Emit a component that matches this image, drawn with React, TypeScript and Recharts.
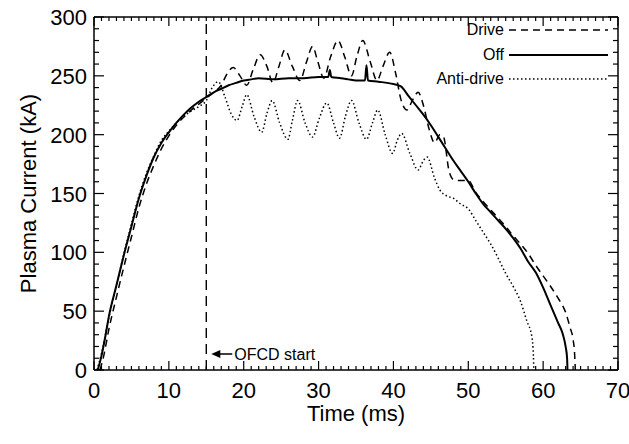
import React from "react";
import { LineChart, Line, XAxis, YAxis, ReferenceLine, ReferenceArea } from "recharts";

const FONT = "'Liberation Sans', Arial, Helvetica, sans-serif";

// time (ms) / plasma current (kA)
const offTime = [0.5, 1, 1.5, 2, 3, 4, 5, 6, 7, 8, 9, 10, 11, 12, 13, 14, 15, 16, 17, 18, 19, 20, 21, 22, 24, 26, 28, 30, 31.3, 31.5, 31.7, 33, 34, 35, 36.2, 36.4, 36.6, 38, 40, 41, 42, 43, 44, 45, 46, 47, 48, 49, 50, 51, 52, 53, 54, 55, 56, 57, 58, 59, 60, 61, 62, 62.6, 63, 63.2, 63.25];
const offCurrent = [0, 12, 28, 46, 72, 98, 122, 146, 165, 181, 193, 202, 210, 217, 223, 228, 232, 236, 239, 242, 244, 246, 247, 248, 247, 248, 248, 249, 249, 255, 249, 248, 247, 246, 246, 259, 246, 245, 243, 241, 233, 225, 217, 208, 198, 188, 178, 169, 160, 150, 141, 134, 127, 120, 112, 103, 92, 83, 70, 55, 40, 31, 20, 10, 0];

const driveTime = [0.8, 1.3, 2, 3, 4, 5, 6, 7, 8, 9, 10, 11, 12, 13, 14, 15, 16, 17, 17.8, 18.6, 19.5, 20.4, 21.3, 22.2, 23.1, 23.9, 24.7, 25.5, 26.5, 27.5, 28.4, 29.2, 29.9, 30.7, 31.6, 32.6, 33.5, 34.4, 35.1, 35.9, 36.9, 37.8, 38.6, 39.5, 40.3, 41, 41.8, 42.6, 43.3, 44, 44.8, 45.5, 46.2, 46.7, 47.4, 48, 48.8, 50, 51, 52, 53, 54, 55, 56, 57, 58, 59, 60, 61, 62, 63, 63.6, 64, 64.2, 64.3];
const driveCurrent = [0, 12, 35, 62, 88, 113, 138, 158, 174, 188, 199, 208, 215, 221, 226, 231, 236, 242, 252, 257, 250, 242, 256, 268, 258, 244, 258, 272, 258, 246, 262, 275, 262, 248, 266, 280, 266, 250, 266, 280, 262, 246, 258, 270, 252, 230, 221, 230, 236, 225, 204, 193, 200, 198, 170, 162, 161, 161, 151, 143, 136, 129, 122, 114, 107, 99, 89, 80, 71, 61, 49, 36, 26, 14, 0];

const antiTime = [0.4, 1, 2, 3, 4, 5, 6, 7, 8, 9, 10, 11, 12, 13, 14, 15, 15.8, 16.6, 17.5, 18.3, 19.1, 19.8, 20.4, 21.4, 22.4, 23.1, 23.8, 24.8, 25.9, 26.5, 27.2, 28.2, 29.2, 30.1, 31.1, 32, 32.8, 33.6, 34.4, 35.4, 36.4, 37.2, 37.9, 38.9, 39.9, 40.5, 41.1, 42.2, 43.3, 44, 44.5, 45.5, 46.2, 47.1, 48, 49, 50, 51, 52, 53, 54, 55, 56, 57, 57.8, 58.5, 58.7, 58.75];
const antiCurrent = [0, 14, 45, 72, 99, 124, 148, 167, 182, 195, 203, 210, 216, 220, 224, 229, 240, 245, 232, 218, 212, 224, 234, 215, 202, 218, 229, 210, 196, 212, 229, 210, 198, 214, 227, 210, 197, 216, 229, 210, 196, 210, 221, 200, 184, 195, 201, 184, 170, 178, 181, 163, 153, 148, 146, 141, 137, 127, 117, 107, 95, 82, 71, 58, 42, 28, 12, 0];

const X_MAX = 70;
const Y_MAX = 300;
const xMajorTicks = [0, 10, 20, 30, 40, 50, 60, 70];
const yMajorTicks = [0, 50, 100, 150, 200, 250, 300];
const xTicks = Array.from({ length: 71 }, (_, k) => k);
const yTicks = Array.from({ length: 31 }, (_, k) => k * 10);

const toRows = (t: number[], v: number[]) => t.map((x, k) => ({ t: x, i: v[k] }));
const offData = toRows(offTime, offCurrent);
const driveData = toRows(driveTime, driveCurrent);
const antiData = toRows(antiTime, antiCurrent);

// inward ticks on all four sides of the plot box (box comes from the reference area spanning the domain)
const FrameTicks = (p: any) => {
  const { x, y, width, height } = p;
  const marks: React.ReactNode[] = [];
  xTicks.forEach((v) => {
    const px = x + (v / X_MAX) * width;
    const len = xMajorTicks.includes(v) ? 9 : 4;
    marks.push(<line key={`b${v}`} x1={px} x2={px} y1={y + height} y2={y + height - len} stroke="#000" strokeWidth={1.2} />);
    marks.push(<line key={`t${v}`} x1={px} x2={px} y1={y} y2={y + len} stroke="#000" strokeWidth={1.2} />);
  });
  yTicks.forEach((v) => {
    const py = y + height - (v / Y_MAX) * height;
    const len = yMajorTicks.includes(v) ? 10 : 5;
    marks.push(<line key={`l${v}`} x1={x} x2={x + len} y1={py} y2={py} stroke="#000" strokeWidth={1.2} />);
    marks.push(<line key={`r${v}`} x1={x + width} x2={x + width - len} y1={py} y2={py} stroke="#000" strokeWidth={1.2} />);
  });
  return <g>{marks}</g>;
};

const BottomLabel = (p: any) =>
  xMajorTicks.includes(p.payload.value) ? (
    <text x={p.x} y={p.y + 28} textAnchor="middle" fontSize={22} fontFamily={FONT} fill="#000">
      {p.payload.value}
    </text>
  ) : (
    <g />
  );

const LeftLabel = (p: any) =>
  yMajorTicks.includes(p.payload.value) ? (
    <text x={p.x - 7} y={p.y + 8} textAnchor="end" fontSize={22} fontFamily={FONT} fill="#000">
      {p.payload.value}
    </text>
  ) : (
    <g />
  );

const OfcdLabel = (props: any) => {
  const vb = props.viewBox;
  const x = vb.x;
  const y = vb.y + vb.height - 16;
  return (
    <g>
      <line x1={x + 12} x2={x + 26} y1={y} y2={y} stroke="#000" strokeWidth={1.5} />
      <polygon points={`${x + 5},${y} ${x + 14},${y - 4} ${x + 14},${y + 4}`} fill="#000" />
      <text x={x + 28} y={y + 6} fontSize={16} fontFamily={FONT} fill="#000">
        OFCD start
      </text>
    </g>
  );
};

const legendRows = [
  { name: "Drive", dash: "7 5", width: 1.5 },
  { name: "Off", dash: undefined, width: 2 },
  { name: "Anti-drive", dash: "1.5 2.5", width: 1.5 },
];

export default function App() {
  return (
    <div style={{ position: "absolute", left: 0, top: 0, width: 629, height: 444 }}>
      <LineChart width={629} height={444} margin={{ top: 16, right: 10, bottom: 0, left: 0 }}>
        <XAxis
          dataKey="t"
          type="number"
          domain={[0, X_MAX]}
          ticks={xMajorTicks}
          interval={0}
          tickSize={0}
          tickMargin={0}
          tickLine={false}
          tick={BottomLabel}
          height={74}
          axisLine={{ stroke: "#000", strokeWidth: 1.5 }}
          label={(lp: any) => (
            <text
              x={lp.viewBox.x + lp.viewBox.width / 2}
              y={421}
              textAnchor="middle"
              fontSize={22}
              fontFamily={FONT}
              fill="#000"
            >
              Time (ms)
            </text>
          )}
        />
        <XAxis
          xAxisId="top"
          dataKey="t"
          orientation="top"
          type="number"
          domain={[0, X_MAX]}
          tick={false}
          tickLine={false}
          height={1}
          axisLine={{ stroke: "#000", strokeWidth: 1.5 }}
        />
        <YAxis
          type="number"
          domain={[0, Y_MAX]}
          ticks={yMajorTicks}
          interval={0}
          tickSize={0}
          tickMargin={0}
          tickLine={false}
          tick={LeftLabel}
          width={94}
          axisLine={{ stroke: "#000", strokeWidth: 1.5 }}
          label={(lp: any) => {
            const cy = lp.viewBox.y + lp.viewBox.height / 2;
            return (
              <text
                x={28}
                y={cy}
                transform={`rotate(-90, 28, ${cy})`}
                textAnchor="middle"
                dominantBaseline="central"
                fontSize={22}
                fontFamily={FONT}
                fill="#000"
              >
                Plasma Current (kA)
              </text>
            );
          }}
        />
        <YAxis
          yAxisId="r"
          orientation="right"
          type="number"
          domain={[0, Y_MAX]}
          tick={false}
          tickLine={false}
          width={1}
          axisLine={{ stroke: "#000", strokeWidth: 1.5 }}
        />
        <ReferenceArea x1={0} x2={X_MAX} y1={0} y2={Y_MAX} fill="none" stroke="none" shape={FrameTicks} />
        <ReferenceLine x={15} stroke="#000" strokeWidth={1.4} strokeDasharray="10 6" label={OfcdLabel} />
        <Line data={antiData} dataKey="i" yAxisId="r" type="monotone" stroke="#000" strokeWidth={1.5} strokeDasharray="1.5 2.5" dot={false} isAnimationActive={false} />
        <Line data={driveData} dataKey="i" xAxisId="top" type="monotone" stroke="#000" strokeWidth={1.5} strokeDasharray="7 5" dot={false} isAnimationActive={false} />
        <Line data={offData} dataKey="i" type="monotone" stroke="#000" strokeWidth={2} dot={false} isAnimationActive={false} />
      </LineChart>
      <div style={{ position: "absolute", top: 18, right: 21, display: "flex", flexDirection: "column", alignItems: "flex-end" }}>
        {legendRows.map((r) => (
          <div key={r.name} style={{ display: "flex", alignItems: "center", height: 24.5 }}>
            <span style={{ fontSize: 16, fontFamily: FONT, lineHeight: 1, color: "#000" }}>{r.name}</span>
            <svg width={104} height={6}>
              <line x1={5} x2={104} y1={3} y2={3} stroke="#000" strokeWidth={r.width} strokeDasharray={r.dash} />
            </svg>
          </div>
        ))}
      </div>
    </div>
  );
}
